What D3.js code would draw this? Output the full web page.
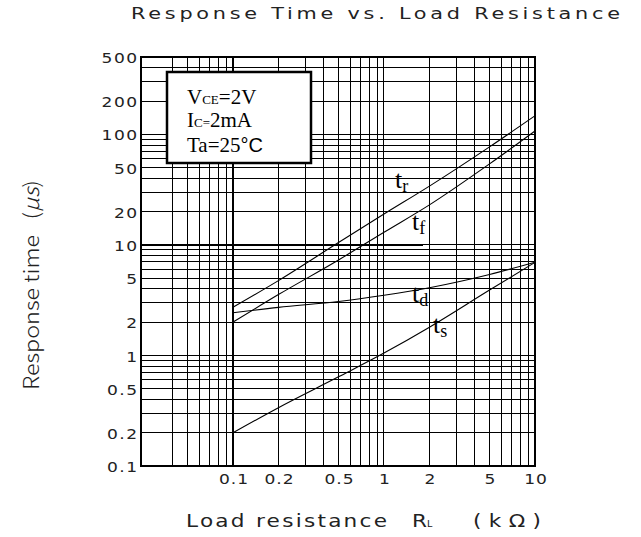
<!DOCTYPE html>
<html><head><meta charset="utf-8">
<script src="https://cdn.jsdelivr.net/npm/d3@7"></script>
<style>body{margin:0;background:#fff}</style>
</head><body>
<svg id="c" width="641" height="537"></svg>
<script>
// ---- data ----
const xExtent = [0.0246, 10];
const yExtent = [0.1, 500];
const xTickValues = [0.1, 0.2, 0.5, 1, 2, 5, 10];
const yTickValues = [500, 200, 100, 50, 20, 10, 5, 2, 1, 0.5, 0.2, 0.1];
const xGrid = [0.04,0.05,0.06,0.07,0.08,0.09,0.1,0.2,0.3,0.4,0.5,0.6,0.7,0.8,0.9,1,2,3,4,5,6,7,8,9];
const yGrid = [0.2,0.3,0.4,0.5,0.6,0.7,0.8,0.9,1,2,3,4,5,6,7,8,9,10,20,30,40,50,60,70,80,90,100,200,300,400];
const loadR = [0.1, 0.2, 0.5, 1, 2, 5, 10];
const tr = [2.73, 4.75, 10.5, 19, 34, 77, 147];
const tf = [2.0, 3.55, 7.3, 13, 23, 54, 107];
const td = [2.43, 2.72, 3.07, 3.5, 4.1, 5.4, 6.95];
const ts = [0.2, 0.337, 0.64, 1.05, 1.8, 3.9, 6.95];
const seriesNames = ["r", "f", "d", "s"];
const thickUntil = 1.8;

// ---- chart ----
const svg = d3.select('#c');
const x = d3.scaleLog().domain(xExtent).range([141, 535]);
const y = d3.scaleLog().domain(yExtent).range([466, 57]);
const X0 = x(xExtent[0]), X1 = x(xExtent[1]), Y0 = y(yExtent[0]), Y1 = y(yExtent[1]);
const geo = '"DejaVu Sans", sans-serif';

const grid = svg.append('g').attr('stroke', '#000').attr('shape-rendering', 'crispEdges');
grid.selectAll('line.v').data(xGrid).join('line').attr('class', 'v')
  .attr('x1', d => x(d)).attr('x2', d => x(d)).attr('y1', Y0).attr('y2', Y1)
  .attr('stroke-width', d => d === 0.1 ? 2.5 : 1);
grid.selectAll('line.h').data(yGrid).join('line').attr('class', 'h')
  .attr('y1', d => y(d)).attr('y2', d => y(d)).attr('x1', X0).attr('x2', X1)
  .attr('stroke-width', 1);
grid.append('line').attr('x1', X0).attr('x2', x(thickUntil)).attr('y1', y(10)).attr('y2', y(10)).attr('stroke-width', 2.5);
grid.append('line').attr('x1', X0).attr('x2', x(thickUntil)).attr('y1', Y0).attr('y2', Y0).attr('stroke-width', 2.5);
grid.append('rect').attr('x', X0).attr('y', Y1).attr('width', X1 - X0).attr('height', Y0 - Y1)
  .attr('fill', 'none').attr('stroke-width', 1.3);
grid.append('line').attr('x1', X0).attr('x2', X0).attr('y1', Y0).attr('y2', Y1).attr('stroke-width', 2.5);

// curves
const series = [tr, tf, td, ts];
const line = d3.line().x(d => x(d[0])).y(d => y(d[1])).curve(d3.curveMonotoneX);
svg.append('g').selectAll('path').data(series).join('path')
  .attr('d', s => line(loadR.map((r, i) => [r, s[i]])))
  .attr('fill', 'none').attr('stroke', '#000').attr('stroke-width', 1.1);

// curve labels
const labPos = [[395, 188], [412, 230], [412, 302], [433, 333]];
const labs = svg.append('g').attr('font-family', '"Liberation Serif", "Times New Roman", serif');
seriesNames.forEach((n, i) => {
  const t = labs.append('text').attr('x', labPos[i][0]).attr('y', labPos[i][1]).attr('font-size', 26).attr('fill', '#000');
  t.append('tspan').text('t');
  t.append('tspan').attr('font-size', 18).attr('dy', 4).text(n);
});

// condition box
const box = svg.append('g');
box.append('rect').attr('x', 167).attr('y', 72).attr('width', 144).attr('height', 91)
  .attr('fill', '#fff').attr('stroke', '#000').attr('stroke-width', 2.5);
const bt = box.append('g').attr('font-family', '"Liberation Serif", "Times New Roman", serif').attr('font-size', 21).attr('fill', '#000');
let t1 = bt.append('text').attr('x', 187).attr('y', 104);
t1.append('tspan').text('V');
t1.append('tspan').attr('font-size', 13).text('CE');
t1.append('tspan').text('=2V');
let t2 = bt.append('text').attr('x', 187).attr('y', 127);
t2.append('tspan').text('I');
t2.append('tspan').attr('font-size', 13).text('C=');
t2.append('tspan').text('2mA');
let t3 = bt.append('text').attr('x', 187).attr('y', 152);
t3.append('tspan').text('Ta=25');
t3.append('tspan').attr('font-family', '"Liberation Sans", Arial, sans-serif').attr('font-size', 20).text('°C');

// axes
const xa = svg.append('g').attr('transform', `translate(0,${Y0})`)
  .call(d3.axisBottom(x).tickValues(xTickValues).tickFormat(d => String(d)).tickSize(0).tickPadding(8));
xa.select('.domain').remove();
xa.attr('font-family', geo).attr('font-size', 14);
xa.selectAll('text').attr('fill', '#222').attr('letter-spacing', '0.8px').attr('dx', '0.4px')
  .attr('transform', 'scale(1.22,1)');

const ya = svg.append('g').attr('transform', `translate(${X0},0)`)
  .call(d3.axisLeft(y).tickValues(yTickValues).tickFormat(d => String(d)).tickSize(0).tickPadding(2));
ya.select('.domain').remove();
ya.attr('font-family', geo).attr('font-size', 14);
ya.selectAll('text').attr('fill', '#222').attr('letter-spacing', '1.2px').attr('dy', '0.4em')
  .attr('transform', 'scale(1.22,1)');

// wide-lettered text helper
function wide(parent, px, py, sx, size, width, str) {
  const g = parent.append('g').attr('transform', `translate(${px},${py}) scale(${sx},1)`);
  return g.append('text').attr('x', 0).attr('y', 0).attr('font-family', geo).attr('font-size', size)
    .attr('fill', '#222').attr('textLength', width / sx).attr('lengthAdjust', 'spacing').text(str);
}

wide(svg, 131, 18.5, 1.3, 16, 489, 'Response Time vs. Load Resistance');

svg.append('text').attr('transform', 'translate(39,390) rotate(-90)')
  .attr('font-family', '"Noto Sans CJK KR", "Noto Sans", sans-serif').attr('font-weight', 300)
  .attr('font-size', 21).attr('fill', '#222').attr('textLength', 210).attr('lengthAdjust', 'spacingAndGlyphs')
  .call(t => { t.append('tspan').text('Response time\u00a0\u00a0\u00a0('); t.append('tspan').attr('font-style', 'italic').text('μs'); t.append('tspan').text(')'); });

wide(svg, 186, 527, 1.2, 18, 201, 'Load resistance');
const rg = svg.append('g').attr('transform', 'translate(412,527) scale(1.2,1)');
const rl = rg.append('text').attr('font-family', geo).attr('font-size', 18).attr('fill', '#222');
rl.append('tspan').text('R');
rl.append('tspan').attr('font-size', 8).text('L');
wide(svg, 473, 527, 1.2, 18, 68, '(kΩ)');
</script>
</body></html>
